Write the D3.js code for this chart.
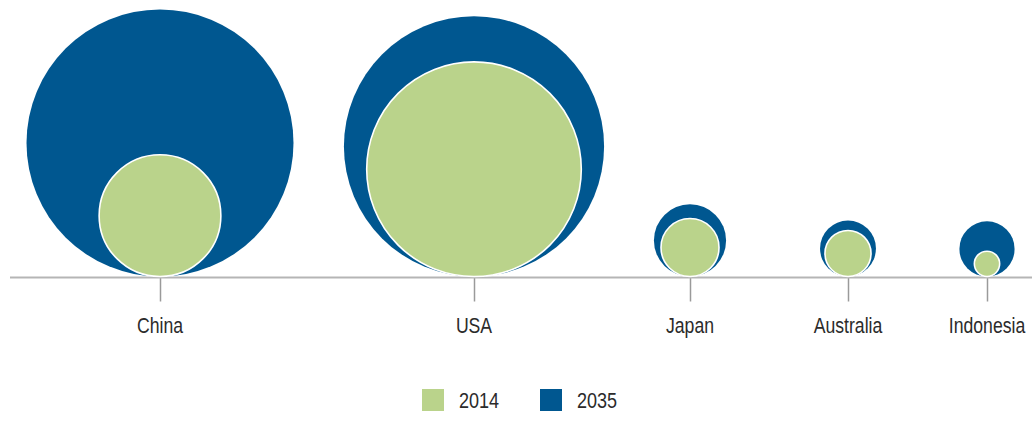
<!DOCTYPE html>
<html>
<head>
<meta charset="utf-8">
<script src="https://cdn.jsdelivr.net/npm/d3@7"></script>
<style>
  html, body { margin: 0; padding: 0; background: #fff; }
  text { font-family: "Liberation Sans", Arial, sans-serif; fill: #2b2b2b; }
</style>
</head>
<body>
<svg id="chart"></svg>
<script>
// data
const countries = ["China", "USA", "Japan", "Australia", "Indonesia"];
const values2014 = [37, 115, 8.4, 5.3, 1.6];
const values2035 = [178, 169, 13, 7.8, 7.6];
const years = ["2014", "2035"];

let size = {width: 1032, height: 427};
const baseY = 276.5;
const narrow = 0.82; // squeeze text horizontally, like a narrow face

let svg = d3.select("#chart")
    .attr("width", size.width)
    .attr("height", size.height);

const colors = d3.scaleOrdinal().domain(years).range(["#bad38b", "#005790"]);

// x positions along the axis (uneven spacing)
const x = d3.scaleOrdinal()
    .domain(countries)
    .range([160, 474, 690, 848, 987]);

// area-proportional radius
const r = d3.scaleSqrt()
    .domain([0, d3.max(values2035)])
    .range([0, 133.5]);

const rows = countries.map((c, i) => ({country: c, v2014: values2014[i], v2035: values2035[i]}));

// axis
const axis = d3.axisBottom(x).tickSize(24).tickPadding(0).tickFormat(() => "");
const axisG = svg.append("g")
    .attr("transform", `translate(0,${baseY + 1})`)
    .call(axis);
axisG.select(".domain").remove();
axisG.selectAll(".tick line").attr("stroke", "#9a9a9a").attr("stroke-width", 1.5);

svg.append("line")
    .attr("x1", 10).attr("x2", size.width)
    .attr("y1", baseY + 1).attr("y2", baseY + 1)
    .attr("stroke", "#b5b5b5")
    .attr("stroke-width", 2);

// bubbles
const g = svg.append("g");
g.selectAll("circle.big")
    .data(rows)
    .join("circle")
    .attr("class", "big")
    .attr("cx", d => x(d.country))
    .attr("cy", d => baseY - r(d.v2035))
    .attr("r", d => r(d.v2035))
    .attr("fill", colors("2035"));

g.selectAll("circle.small")
    .data(rows)
    .join("circle")
    .attr("class", "small")
    .attr("cx", d => x(d.country))
    .attr("cy", d => baseY - r(d.v2014))
    .attr("r", d => r(d.v2014))
    .attr("fill", colors("2014"))
    .attr("stroke", "#fff")
    .attr("stroke-width", 1.6);

// labels
svg.append("g").selectAll("text")
    .data(countries)
    .join("text")
    .attr("transform", d => `translate(${x(d)},333) scale(${narrow},1)`)
    .attr("text-anchor", "middle")
    .attr("font-size", 21.5)
    .text(d => d);

// legend
const legendX = d3.scaleOrdinal().domain(years).range([422, 540]);
const legend = svg.append("g").selectAll("g")
    .data(years)
    .join("g")
    .attr("transform", d => `translate(${legendX(d)},389)`);
legend.append("rect")
    .attr("width", 22).attr("height", 22)
    .attr("fill", d => colors(d));
legend.append("text")
    .attr("transform", `translate(37,19) scale(${narrow},1)`)
    .attr("font-size", 22)
    .text(d => d);
</script>
</body>
</html>
